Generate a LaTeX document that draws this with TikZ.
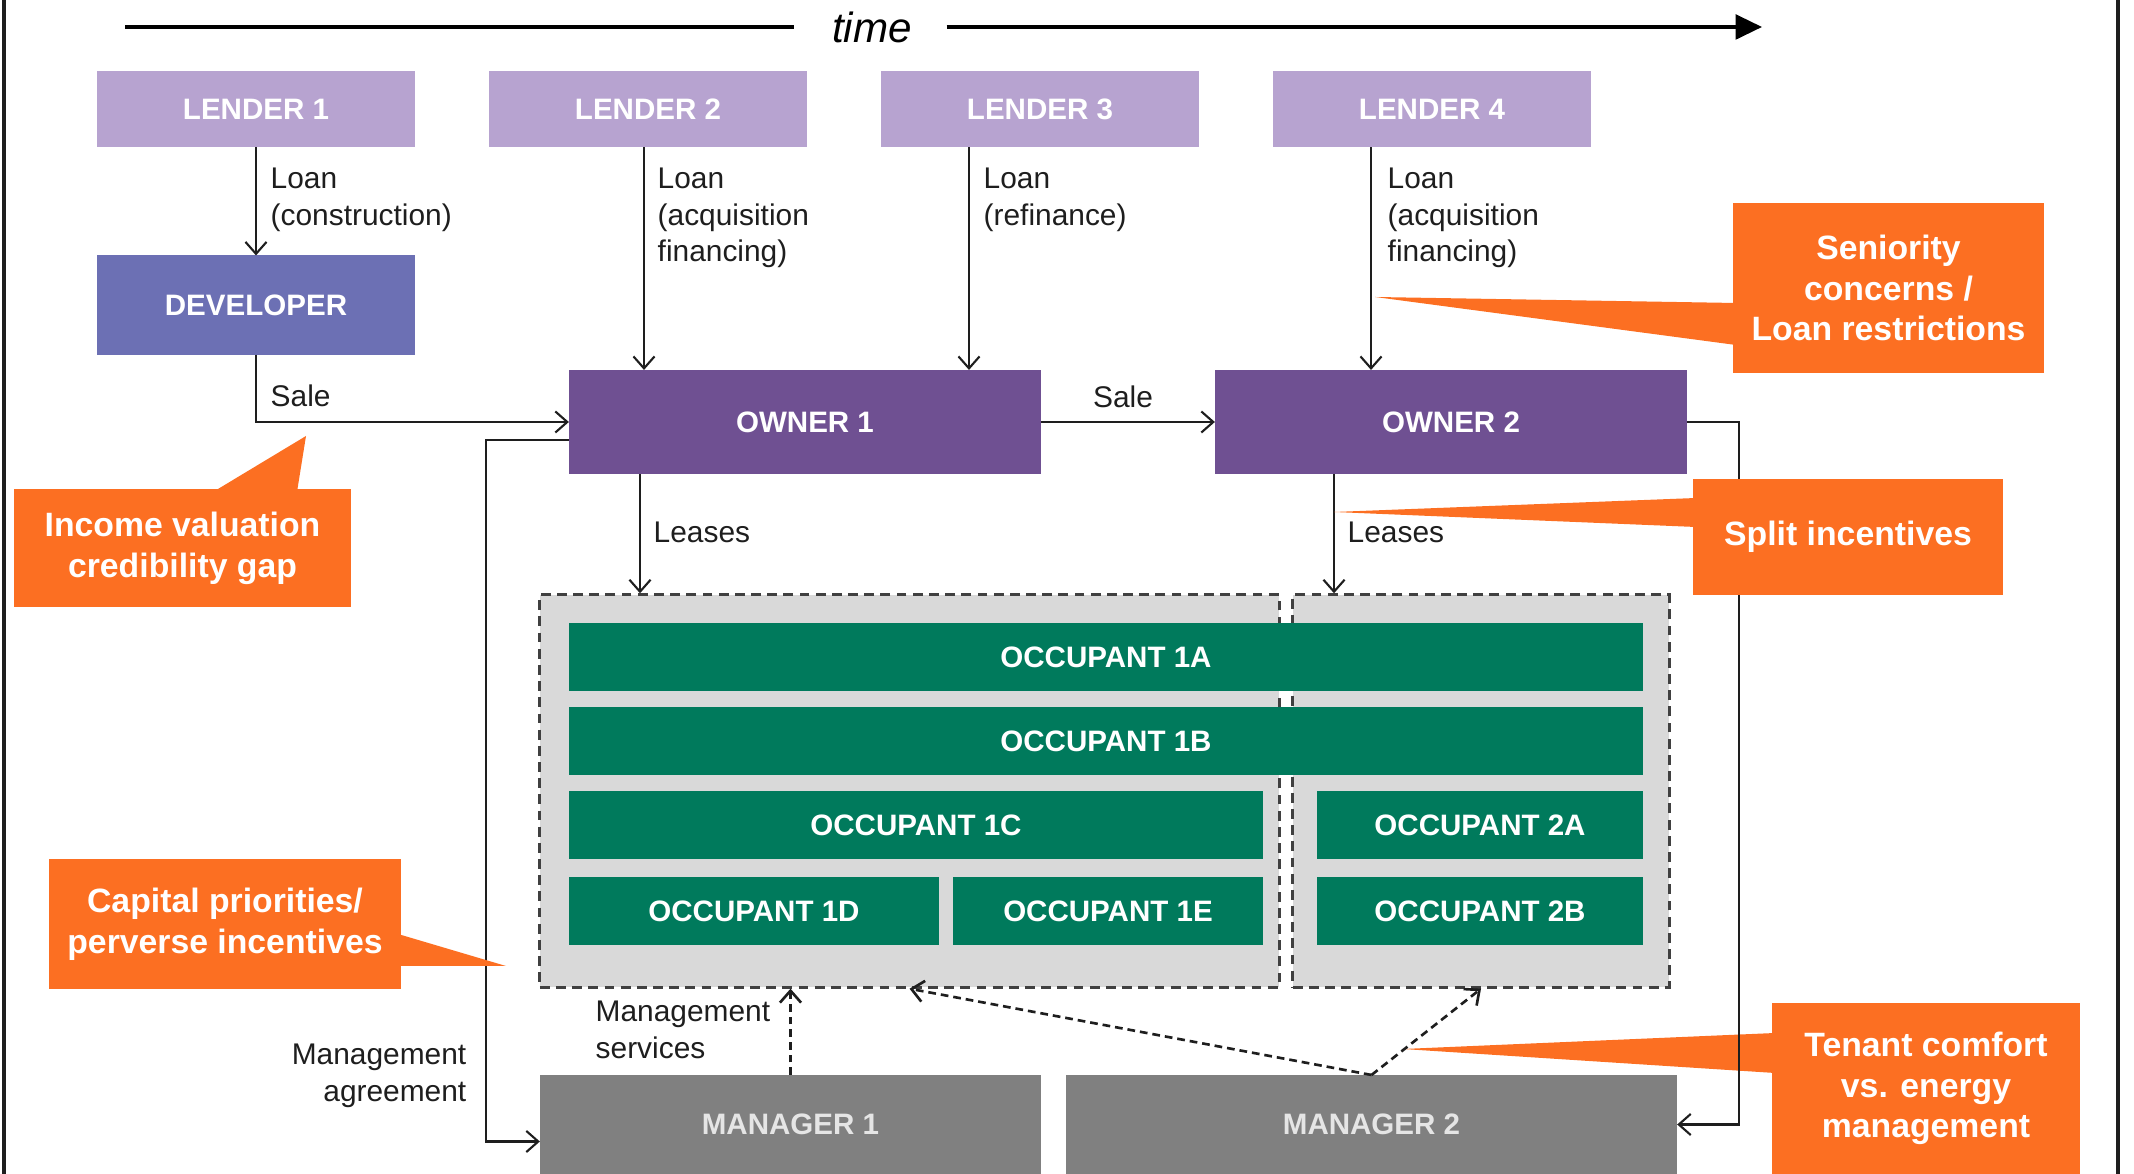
\documentclass[tikz,border=0pt]{standalone}
\usepackage{fontspec}
\setmainfont{Liberation Sans}
\usetikzlibrary{arrows.meta, calc}

\definecolor{lenderc}{RGB}{183,163,208}
\definecolor{devc}{RGB}{108,112,180}
\definecolor{ownerc}{RGB}{111,80,146}
\definecolor{occc}{RGB}{0,122,92}
\definecolor{mgrc}{RGB}{128,128,128}
\definecolor{zonec}{RGB}{217,217,217}
\definecolor{calloutc}{RGB}{252,111,34}
\definecolor{linec}{RGB}{30,30,30}

\tikzset{
  box/.style={inner sep=0pt, outer sep=0pt, text=white, font=\fontsize{8.4}{10}\selectfont\bfseries},
  lender/.style={box, fill=lenderc, minimum width=3.18cm, minimum height=0.76cm},
  owner/.style={box, fill=ownerc, minimum width=4.72cm, minimum height=1.04cm},
  occ/.style={box, fill=occc, minimum height=0.67cm},
  mgr/.style={box, fill=mgrc, text=white!90!black, minimum height=0.99cm},
  zone/.style={draw=linec!85!white, fill=zonec, line width=0.9pt, dash pattern=on 2.8pt off 1.8pt, inner sep=0pt, minimum height=3.92cm},
  lbl/.style={inner sep=0pt, text=linec, font=\fontsize{8.5}{10.4}\selectfont},
  callout/.style={inner sep=0pt, fill=calloutc, text=white, align=center, font=\fontsize{9.6}{11.6}\selectfont\bfseries},
  conn/.style={draw=linec, line width=0.6pt, -{Straight Barb[length=3.4pt,width=6pt]}},
  dconn/.style={conn, line width=0.75pt, dash pattern=on 2.2pt off 1.4pt}
}

\begin{document}
\begin{tikzpicture}[x=0.01cm, y=-0.01cm]
  \useasboundingbox (0,0) rectangle (2134,1174);
  % Cadre
  \draw[linec, line width=0.9pt] (4,0) -- (4,1174);
  \draw[linec, line width=0.9pt] (2118,0) -- (2118,1174);
  % Axe du temps
  \node[inner sep=0pt, font=\fontsize{12}{14}\selectfont\itshape] (time) at (872,27) {time};
  \coordinate (t0) at (125,27);
  \coordinate (t1) at (1762,27);
  \draw[line width=1pt] (t0) -- ($(time.west)+(-37,0)$);
  \draw[line width=1pt, -{Triangle[length=7.5pt,width=7pt]}] ($(time.east)+(34,0)$) -- (t1);
  % Preteurs
  \foreach \i/\x in {1/256,2/648,3/1040,4/1432}
    \node[lender] (L\i) at (\x,109) {LENDER \i};
  % Promoteur et proprietaires
  \node[box, fill=devc, minimum width=3.18cm, minimum height=0.99cm] (dev) at (256,305) {DEVELOPER};
  \node[owner] (O1) at (805,422) {OWNER 1};
  \node[owner] (O2) at (1451,422) {OWNER 2};
  % Zones d'occupation
  \node[zone, minimum width=7.39cm] (Z1) at (909.5,791) {};
  \node[zone, minimum width=3.76cm] (Z2) at (1481,791) {};
  % Occupants
  \node[occ, minimum width=10.74cm] (occ1A) at (1106,657) {OCCUPANT 1A};
  \node[occ, minimum width=10.74cm] (occ1B) at (1106,741) {OCCUPANT 1B};
  \node[occ, minimum width=6.94cm] (occ1C) at (916,825) {OCCUPANT 1C};
  \node[occ, minimum width=3.26cm] (occ2A) at (1480,825) {OCCUPANT 2A};
  \node[occ, minimum width=3.70cm] (occ1D) at (754,911) {OCCUPANT 1D};
  \node[occ, minimum width=3.10cm] (occ1E) at (1108,911) {OCCUPANT 1E};
  \node[occ, minimum width=3.26cm] (occ2B) at (1480,911) {OCCUPANT 2B};
  % Gestionnaires
  \node[mgr, minimum width=5.01cm] (M1) at (790.5,1124.5) {MANAGER 1};
  \node[mgr, minimum width=6.11cm] (M2) at (1371.5,1124.5) {MANAGER 2};
  % Bulle sous les fleches
  \node[callout, minimum width=3.08cm, minimum height=1.71cm] (cTen) at (1926,1088.5) {Tenant comfort\\vs. energy\\management};
  \fill[calloutc] (1403,1049) -- (1775,1033) -- (1775,1073) -- cycle;
  % Prets
  \draw[conn] (L1.south) -- (dev.north);
  \draw[conn] ($(L2.south)+(-4,0)$) coordinate (a2) -- (a2 |- O1.north);
  \draw[conn] ($(L3.south)+(-71,0)$) coordinate (a3) -- (a3 |- O1.north);
  \draw[conn] ($(L4.south)+(-61,0)$) coordinate (a4) -- (a4 |- O2.north);
  \node[lbl, anchor=west, align=left] (tL1) at (270,200) {Loan\\(construction)};
  \node[lbl, anchor=west, align=left] (tL2) at (657,218) {Loan\\(acquisition\\financing)};
  \node[lbl, anchor=west, align=left] (tL3) at (983,200) {Loan\\(refinance)};
  \node[lbl, anchor=west, align=left] (tL4) at (1387,218) {Loan\\(acquisition\\financing)};
  % Ventes
  \draw[conn] (dev.south) |- (O1.west);
  \draw[conn] (O1.east) -- (O2.west);
  \node[lbl, anchor=west] (tS1) at (270,396) {Sale};
  \node[lbl] (tS2) at (1123,397) {Sale};
  % Baux
  \draw[conn] ($(O1.south)+(-165,0)$) coordinate (b1) -- (b1 |- Z1.north);
  \draw[conn] ($(O2.south)+(-117,0)$) coordinate (b2) -- (b2 |- Z2.north);
  \node[lbl, anchor=west] (tLe1) at (653,532) {Leases};
  \node[lbl, anchor=west] (tLe2) at (1347,532) {Leases};
  % Contrats de gestion
  \draw[conn] ($(O1.west)+(0,18)$) -- ++(-83,0) |- ($(M1.west)+(0,17)$);
  \draw[conn] (O2.east) -- ++(52,0) |- (M2.east);
  \node[lbl, anchor=east, align=right] (tMA) at (467,1076) {Management\\agreement};
  % Services de gestion
  \draw[dconn] (M1.north) -- (M1.north |- Z1.south);
  \draw[dconn] (M2.north) -- (Z1.south);
  \draw[dconn] (M2.north) -- (Z2.south);
  \node[lbl, anchor=west, align=left] (tMS) at (595,1030) {Management\\services};
  % Bulles
  \node[callout, minimum width=3.11cm, minimum height=1.70cm] (cSen) at (1888.5,288) {Seniority\\concerns /\\Loan restrictions};
  \fill[calloutc] (1375,297) -- (1736,303) -- (1736,345) -- cycle;
  \node[callout, minimum width=3.10cm, minimum height=1.16cm] (cSplit) at (1848,537) {Split incentives};
  \fill[calloutc] (1334,512) -- (1696,498) -- (1696,527) -- cycle;
  \node[callout, minimum width=3.37cm, minimum height=1.18cm] (cInc) at (182.5,548) {Income valuation\\credibility gap};
  \fill[calloutc] (306,436) -- (213,492) -- (297,492) -- cycle;
  \node[callout, minimum width=3.52cm, minimum height=1.30cm] (cCap) at (225,924) {Capital priorities/\\perverse incentives};
  \fill[calloutc] (506,966) -- (398,934) -- (398,966) -- cycle;
\end{tikzpicture}
\end{document}
